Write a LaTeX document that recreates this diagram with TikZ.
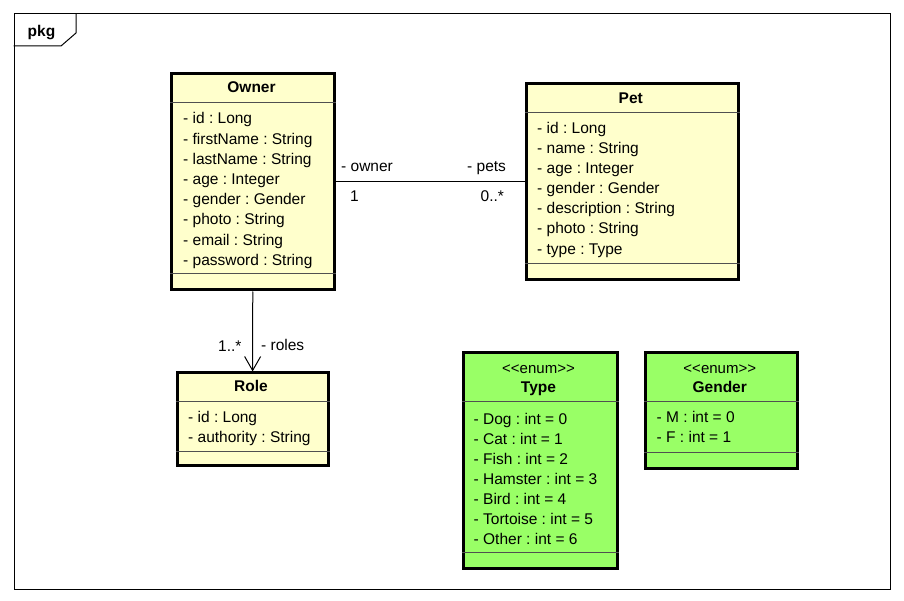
\documentclass[tikz,border=0pt]{standalone}
\usepackage{fontspec}
\setmainfont{Liberation Sans}
\usetikzlibrary{arrows.meta}
\definecolor{clsyellow}{RGB}{255,255,204}
\definecolor{enumgreen}{RGB}{153,255,102}
\definecolor{sepgray}{RGB}{80,80,80}
\frenchspacing
\begin{document}
\begin{tikzpicture}[x=1pt,y=1pt,
  box/.style={draw=black, line width=3pt, inner sep=0pt, anchor=north west},
  yel/.style={box, fill=clsyellow},
  grn/.style={box, fill=enumgreen},
  sepline/.style={draw=sepgray, line width=1pt},
  attr/.style={anchor=base west, inner sep=0pt, font=\fontsize{15.5}{18}\selectfont},
  ttl/.style={anchor=base, inner sep=0pt, font=\fontsize{15.5}{18}\selectfont\bfseries},
  ster/.style={anchor=base, inner sep=0pt, font=\fontsize{15}{18}\selectfont},
  lbl/.style={anchor=base west, inner sep=0pt, font=\fontsize{15.5}{18}\selectfont},
  conn/.style={draw=black, line width=1pt}]

\useasboundingbox (0,0) rectangle (904,-601);
\fill[white] (0,0) rectangle (904,-601);

% frame
\node[draw, line width=1pt, minimum width=876, minimum height=575, anchor=north west, inner sep=0pt] (frame) at (13.5,-13.5) {};
\coordinate (tabA) at (13.5,-46);
\coordinate (tabB) at (61,-46);
\coordinate (tabC) at (76,-33);
\coordinate (tabD) at (76,-13.5);
\draw[line width=1pt] (tabA) -- (tabB) -- (tabC) -- (tabD);
\node[ttl] (pkg) at (41.5,-36.5) {pkg};

% Owner
\node[yel, minimum width=163, minimum height=216] (owner) at (170,-72.5) {};
\draw[sepline] (owner.west |- 0,-102.5) -- (owner.east |- 0,-102.5);
\draw[sepline] (owner.west |- 0,-273.5) -- (owner.east |- 0,-273.5);
\node[ttl] (ownerT) at (251.5,-92.5) {Owner};
\foreach \i/\t in {0/- id : Long, 1/- firstName : String, 2/- lastName : String, 3/- age : Integer, 4/- gender : Gender, 5/- photo : String, 6/- email : String, 7/- password : String}
  \node[attr] (ownerA\i) at (183,{-124-20.2*\i}) {\t};

% Pet
\node[yel, minimum width=212.5, minimum height=196] (pet) at (524.5,-82.5) {};
\draw[sepline] (pet.west |- 0,-113) -- (pet.east |- 0,-113);
\draw[sepline] (pet.west |- 0,-263.5) -- (pet.east |- 0,-263.5);
\node[ttl] (petT) at (630.75,-103.5) {Pet};
\foreach \i/\t in {0/- id : Long, 1/- name : String, 2/- age : Integer, 3/- gender : Gender, 4/- description : String, 5/- photo : String, 6/- type : Type}
  \node[attr] (petA\i) at (537,{-133.5-20.1*\i}) {\t};

% Role
\node[yel, minimum width=151, minimum height=93.5] (role) at (175.5,-370.5) {};
\draw[sepline] (role.west |- 0,-401) -- (role.east |- 0,-401);
\draw[sepline] (role.west |- 0,-451) -- (role.east |- 0,-451);
\node[ttl] (roleT) at (251,-391.5) {Role};
\node[attr] (roleA0) at (188,-422.5) {- id : Long};
\node[attr] (roleA1) at (188,-442.5) {- authority : String};

% Type
\node[grn, minimum width=154, minimum height=216.5] (type) at (461.5,-350.5) {};
\draw[sepline] (type.west |- 0,-401.5) -- (type.east |- 0,-401.5);
\draw[sepline] (type.west |- 0,-552) -- (type.east |- 0,-552);
\node[ster] (typeS) at (538.5,-373) {<{}<enum>{}>};
\node[ttl] (typeT) at (538.5,-392.5) {Type};
\foreach \i/\t in {0/- Dog : int = 0, 1/- Cat : int = 1, 2/- Fish : int = 2, 3/- Hamster : int = 3, 4/- Bird : int = 4, 5/- Tortoise : int = 5, 6/- Other : int = 6}
  \node[attr] (typeA\i) at (473.5,{-424-20*\i}) {\t};

% Gender
\node[grn, minimum width=151.5, minimum height=116] (gender) at (644,-350.5) {};
\draw[sepline] (gender.west |- 0,-401.5) -- (gender.east |- 0,-401.5);
\draw[sepline] (gender.west |- 0,-452.5) -- (gender.east |- 0,-452.5);
\node[ster] (genderS) at (719.75,-373) {<{}<enum>{}>};
\node[ttl] (genderT) at (719.75,-392.5) {Gender};
\node[attr] (genderA0) at (656.5,-422.7) {- M : int = 0};
\node[attr] (genderA1) at (656.5,-442.7) {- F : int = 1};

% connectors
\draw[conn] (owner) -- (pet);
\draw[conn, -{Straight Barb[length=14pt, width=16pt, line width=1pt]}, shorten >=-1pt] (owner) -- (role);

\node[lbl] (lOwner) at (341,-171.5) {- owner};
\node[lbl] (lOne) at (350,-202) {1};
\node[lbl] (lPets) at (467,-171.5) {- pets};
\node[lbl] (lMany) at (480.5,-202) {0..*};
\node[lbl] (lRoleM) at (218,-351.5) {1..*};
\node[lbl] (lRoles) at (261,-350.5) {- roles};
\end{tikzpicture}
\end{document}
